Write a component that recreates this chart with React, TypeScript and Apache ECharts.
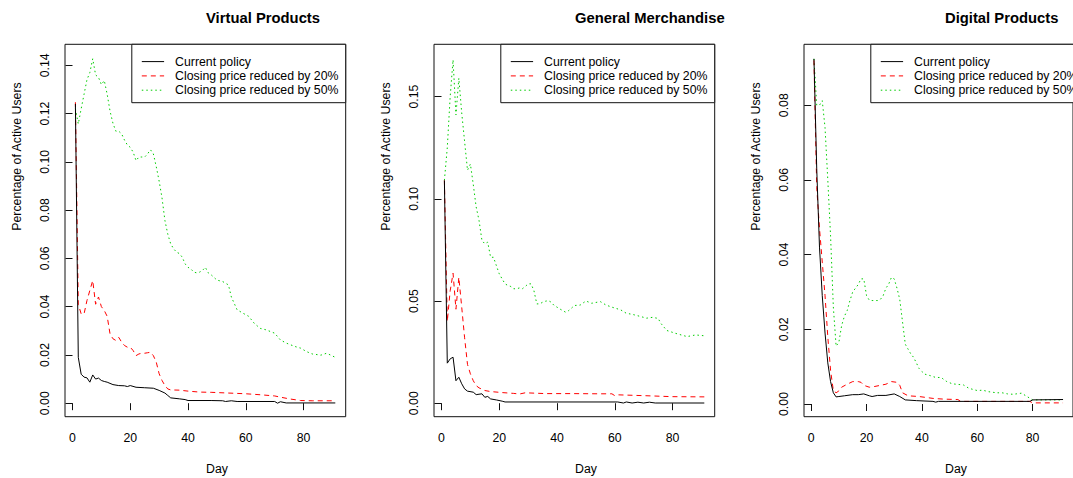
import React, { useEffect, useRef } from "react";
import * as echarts from "echarts";

const FONT = '"Liberation Sans", Arial, Helvetica, sans-serif';
const SERIES_NAMES = ["Current policy", "Closing price reduced by 20%", "Closing price reduced by 50%"];
const COLORS = ["#000000", "#FF0000", "#00CD00"];
const DASHES: any[] = ["solid", [5, 4], [1.5, 3]];

const TITLES = ["Virtual Products", "General Merchandise", "Digital Products"];
const X_LABEL = "Day";
const Y_LABEL = "Percentage of Active Users";
const X_TICKS = [0, 20, 40, 60, 80];
const VP_TICKS = [0, 0.02, 0.04, 0.06, 0.08, 0.1, 0.12, 0.14];
const GM_TICKS = [0, 0.05, 0.1, 0.15];
const DP_TICKS = [0, 0.02, 0.04, 0.06, 0.08];

// Virtual Products
const vpCurrent: [number, number][] = [
  [1, 0.124], [2, 0.019], [3, 0.012], [4, 0.0108], [5, 0.0105], [6, 0.0087], [7, 0.0117], [8, 0.01],
  [9, 0.0104], [10, 0.0094], [11, 0.009], [12, 0.0087], [14, 0.0077], [16, 0.0073], [18, 0.0072],
  [19, 0.0069], [20, 0.0073], [22, 0.0066], [25, 0.0064], [28, 0.0062], [30, 0.0053], [32, 0.0042],
  [33, 0.0032], [34, 0.0022], [37, 0.0018], [39, 0.0015], [40, 0.0011], [48, 0.0011], [52, 0.001],
  [53, 0.0007], [55, 0.001], [57, 0.0007], [70, 0.0007], [71, 0.0], [72, 0.0006], [74, 0.0001], [91, 0.0001],
];
const vp20: [number, number][] = [
  [1, 0.1247], [2, 0.041], [3, 0.037], [4, 0.037], [5, 0.0425], [6, 0.0467], [7, 0.0508], [8, 0.041],
  [9, 0.044], [10, 0.04], [11, 0.0384], [12, 0.036], [13, 0.0287], [14, 0.0267], [15, 0.026], [16, 0.0273],
  [17, 0.0253], [18, 0.0239], [19, 0.0232], [20, 0.0232], [21, 0.0218], [22, 0.0197], [23, 0.0204],
  [24, 0.0207], [25, 0.0207], [26, 0.0209], [27, 0.0211], [28, 0.0197], [29, 0.017], [30, 0.0122],
  [31, 0.0094], [32, 0.0073], [33, 0.0059], [34, 0.0055], [37, 0.0054], [40, 0.005], [44, 0.0046],
  [48, 0.0045], [56, 0.0041], [60, 0.0039], [65, 0.0035], [70, 0.003], [72, 0.0025], [75, 0.0018],
  [79, 0.0011], [83, 0.001], [91, 0.001],
];
const vp50: [number, number][] = [
  [1, 0.122], [2, 0.1157], [3, 0.122], [4, 0.128], [5, 0.134], [6, 0.137], [7, 0.1427], [8, 0.136],
  [9, 0.135], [10, 0.132], [11, 0.1337], [12, 0.128], [13, 0.121], [14, 0.116], [15, 0.1127], [16, 0.1127],
  [17, 0.1116], [18, 0.109], [19, 0.107], [20, 0.106], [21, 0.104], [22, 0.1005], [23, 0.102], [24, 0.102],
  [25, 0.102], [26, 0.1033], [27, 0.105], [28, 0.1033], [29, 0.098], [30, 0.092], [31, 0.085], [32, 0.0757],
  [33, 0.07], [34, 0.066], [35, 0.064], [36, 0.0626], [37, 0.062], [38, 0.0605], [39, 0.0577], [40, 0.0563],
  [41, 0.0556], [42, 0.0543], [43, 0.054], [44, 0.0543], [45, 0.055], [46, 0.0563], [47, 0.054], [48, 0.0532],
  [50, 0.051], [52, 0.0504], [54, 0.049], [55, 0.044], [57, 0.0387], [59, 0.0373], [61, 0.036], [63, 0.033],
  [65, 0.031], [67, 0.0304], [70, 0.029], [72, 0.0262], [74, 0.0249], [77, 0.0235], [79, 0.0228],
  [81, 0.0214], [83, 0.0204], [86, 0.0199], [88, 0.0207], [91, 0.019],
];

// General Merchandise
const gmCurrent: [number, number][] = [
  [1, 0.109], [2, 0.0196], [3, 0.0217], [4, 0.0225], [5, 0.011], [6, 0.0127], [7, 0.0095], [8, 0.007],
  [9, 0.0059], [11, 0.0054], [12, 0.0042], [14, 0.0046], [15, 0.0029], [16, 0.0033], [17, 0.0021],
  [19, 0.0016], [21, 0.001], [22, 0.0006], [61, 0.0006], [63, 0.0001], [64, 0.0006], [66, 0.0001],
  [68, 0.0005], [70, 0.0001], [72, 0.0005], [74, 0.0001], [91, 0.0001],
];
const gm20: [number, number][] = [
  [1, 0.109], [2, 0.04], [3, 0.055], [4, 0.0636], [5, 0.046], [6, 0.0616], [7, 0.047], [8, 0.032],
  [9, 0.019], [10, 0.0144], [11, 0.011], [12, 0.0086], [13, 0.0075], [15, 0.0062], [17, 0.0057],
  [21, 0.0052], [25, 0.0048], [27, 0.0045], [29, 0.0051], [36, 0.0047], [45, 0.0047], [55, 0.0046],
  [59, 0.0046], [60, 0.0037], [61, 0.0041], [70, 0.0037], [80, 0.0032], [91, 0.0031],
];
const gm50: [number, number][] = [
  [1, 0.109], [2, 0.125], [3, 0.15], [4, 0.168], [5, 0.141], [6, 0.159], [7, 0.142], [8, 0.128],
  [9, 0.114], [10, 0.117], [11, 0.107], [12, 0.096], [13, 0.0894], [14, 0.0796], [15, 0.078], [16, 0.0788],
  [17, 0.0714], [18, 0.0714], [19, 0.0673], [20, 0.0633], [21, 0.0608], [22, 0.0584], [23, 0.0576],
  [24, 0.0571], [25, 0.056], [26, 0.056], [27, 0.0564], [28, 0.056], [29, 0.0571], [30, 0.0584],
  [31, 0.0584], [32, 0.0551], [33, 0.0486], [34, 0.0486], [35, 0.0494], [36, 0.0499], [37, 0.0502],
  [38, 0.0494], [39, 0.0478], [40, 0.047], [41, 0.0461], [42, 0.0453], [43, 0.0445], [44, 0.0453],
  [45, 0.0465], [46, 0.0478], [48, 0.048], [50, 0.05], [52, 0.0489], [55, 0.0497], [57, 0.048],
  [59, 0.047], [62, 0.0457], [64, 0.044], [66, 0.0435], [69, 0.0424], [71, 0.0416], [73, 0.042],
  [75, 0.0415], [76, 0.039], [78, 0.0356], [81, 0.0342], [83, 0.0334], [85, 0.0326], [88, 0.0334], [91, 0.033],
];

// Digital Products
const dpCurrent: [number, number][] = [
  [1, 0.0924], [2, 0.063], [3, 0.042], [4, 0.029], [5, 0.019], [6, 0.011], [7, 0.006], [8, 0.003],
  [9, 0.0019], [10, 0.002], [12, 0.0022], [15, 0.0025], [17, 0.0025], [19, 0.0027], [21, 0.0022],
  [22, 0.002], [24, 0.0023], [27, 0.0023], [30, 0.0027], [32, 0.002], [34, 0.0011], [38, 0.0009],
  [44, 0.0007], [45, 0.0005], [46, 0.0007], [79, 0.0007], [80, 0.0011], [91, 0.0012],
];
const dp20: [number, number][] = [
  [1, 0.092], [2, 0.058], [3, 0.047], [4, 0.038], [5, 0.029], [6, 0.018], [7, 0.009], [8, 0.0036],
  [9, 0.003], [10, 0.0035], [11, 0.0045], [13, 0.0053], [15, 0.006], [17, 0.006], [18, 0.0058],
  [19, 0.005], [21, 0.0045], [23, 0.0047], [25, 0.005], [27, 0.0053], [29, 0.006], [31, 0.0058],
  [32, 0.005], [33, 0.003], [35, 0.0022], [39, 0.002], [44, 0.0015], [48, 0.0013], [53, 0.0012],
  [54, 0.0007], [79, 0.0007], [80, 0.0003], [91, 0.0003],
];
const dp50: [number, number][] = [
  [1, 0.0924], [2, 0.08], [3, 0.08], [4, 0.0812], [5, 0.074], [6, 0.06], [7, 0.045], [8, 0.026],
  [9, 0.0155], [10, 0.0165], [11, 0.021], [12, 0.0235], [13, 0.025], [14, 0.0277], [15, 0.03], [16, 0.031],
  [17, 0.032], [18, 0.0335], [19, 0.0335], [20, 0.029], [21, 0.0278], [22, 0.0277], [24, 0.0277],
  [25, 0.028], [26, 0.029], [27, 0.031], [28, 0.0321], [29, 0.0339], [30, 0.0335], [31, 0.031],
  [32, 0.028], [33, 0.022], [34, 0.016], [35, 0.0147], [36, 0.0134], [37, 0.0125], [38, 0.011],
  [39, 0.0095], [40, 0.0087], [41, 0.008], [43, 0.0076], [45, 0.0071], [47, 0.0071], [48, 0.0065],
  [49, 0.006], [51, 0.0054], [55, 0.0051], [57, 0.0042], [60, 0.0036], [62, 0.0037], [64, 0.0033],
  [67, 0.003], [69, 0.003], [71, 0.0027], [73, 0.0026], [76, 0.0029], [78, 0.002], [80, 0.0011], [91, 0.0011],
];

const PANEL_DATA = [
  { series: [vpCurrent, vp20, vp50], ticks: VP_TICKS, yMin: -0.0056, yMax: 0.1487 },
  { series: [gmCurrent, gm20, gm50], ticks: GM_TICKS, yMin: -0.0066, yMax: 0.1756 },
  { series: [dpCurrent, dp20, dp50], ticks: DP_TICKS, yMin: -0.0034, yMax: 0.0963 },
];

// layout
const CHART_W = 1073;
const CHART_H = 478;
const BOX_LEFTS = [65, 434, 804];
const BOX_W = 280.7;
const BOX_TOP = 44.3;
const BOX_H = 372.4;
const X_MIN = -2.6;
const X_MAX = 94.6;
const FS = 12.3;

function buildOption() {
  const grid: any[] = [];
  const xAxis: any[] = [];
  const yAxis: any[] = [];
  const series: any[] = [];
  const graphic: any[] = [];

  PANEL_DATA.forEach((p, i) => {
    const left = BOX_LEFTS[i];
    grid.push({
      left, top: BOX_TOP, width: BOX_W, height: BOX_H,
      show: true, borderColor: "#111", borderWidth: 1, backgroundColor: "transparent",
    });
    xAxis.push({
      type: "value", gridIndex: i, min: X_MIN, max: X_MAX,
      axisLine: { show: false }, splitLine: { show: false },
      axisTick: { show: true, inside: false, length: 7, customValues: X_TICKS, lineStyle: { color: "#111", width: 1 } },
      axisLabel: { show: true, customValues: X_TICKS, margin: 15, color: "#000", fontSize: FS, fontFamily: FONT },
    });
    yAxis.push({
      type: "value", gridIndex: i, min: p.yMin, max: p.yMax,
      axisLine: { show: false }, splitLine: { show: false },
      axisTick: { show: true, inside: false, length: 7, customValues: p.ticks, lineStyle: { color: "#111", width: 1 } },
      axisLabel: {
        show: true, customValues: p.ticks, rotate: 90, margin: 14, color: "#000", fontSize: FS, fontFamily: FONT,
        formatter: (v: number) => v.toFixed(2),
      },
    });
    p.series.forEach((data, k) => {
      series.push({
        type: "line", name: SERIES_NAMES[k], xAxisIndex: i, yAxisIndex: i, data,
        symbol: "none", showSymbol: false, silent: true, z: 3 - k + 2,
        lineStyle: { color: COLORS[k], width: 1, type: DASHES[k] },
      });
    });

    // titles
    graphic.push({
      type: "text", x: left + 141, y: 18, z: 50,
      style: { text: TITLES[i], fill: "#000", fontSize: 14.8, fontWeight: "bold", fontFamily: FONT,
        align: "left", verticalAlign: "middle", textAlign: "left", textVerticalAlign: "middle" },
    });
    graphic.push({
      type: "text", x: left + 141, y: 468.5, z: 50,
      style: { text: X_LABEL, fill: "#000", fontSize: FS, fontFamily: FONT,
        align: "left", verticalAlign: "middle", textAlign: "left", textVerticalAlign: "middle" },
    });
    graphic.push({
      type: "text", x: left - 48.3, y: 230.7, rotation: Math.PI / 2, z: 50,
      style: { text: Y_LABEL, fill: "#000", fontSize: FS, fontFamily: FONT,
        align: "left", verticalAlign: "middle", textAlign: "left", textVerticalAlign: "middle" },
    });

    // legend
    const lx = left + 66.8;
    const lw = left + BOX_W - lx;
    const children: any[] = [
      { type: "rect", shape: { x: lx, y: BOX_TOP, width: lw, height: 58.4 },
        style: { fill: "#fff", stroke: "#111", lineWidth: 1 } },
    ];
    SERIES_NAMES.forEach((name, k) => {
      const yy = 61.6 + k * 14.3;
      children.push({
        type: "line", shape: { x1: lx + 10, y1: yy, x2: lx + 32.3, y2: yy },
        style: { stroke: COLORS[k], lineWidth: 1, lineDash: k === 0 ? null : DASHES[k] },
      });
      children.push({
        type: "text", x: lx + 43.3, y: yy,
        style: { text: name, fill: "#000", fontSize: FS, fontFamily: FONT,
          align: "left", verticalAlign: "middle", textAlign: "left", textVerticalAlign: "middle" },
      });
    });
    graphic.push({ type: "group", z: 60, children });
  });

  return {
    animation: false,
    backgroundColor: "#ffffff",
    grid, xAxis, yAxis, series, graphic,
  };
}

export default function App() {
  const ref = useRef<HTMLDivElement>(null);
  useEffect(() => {
    if (!ref.current) return;
    const chart = echarts.init(ref.current, undefined, { renderer: "svg", width: CHART_W, height: CHART_H });
    chart.setOption(buildOption() as any);
    return () => chart.dispose();
  }, []);
  return (
    <div
      ref={ref}
      style={{ position: "absolute", left: 0, top: 0, width: CHART_W, height: CHART_H, background: "#fff" }}
    />
  );
}
